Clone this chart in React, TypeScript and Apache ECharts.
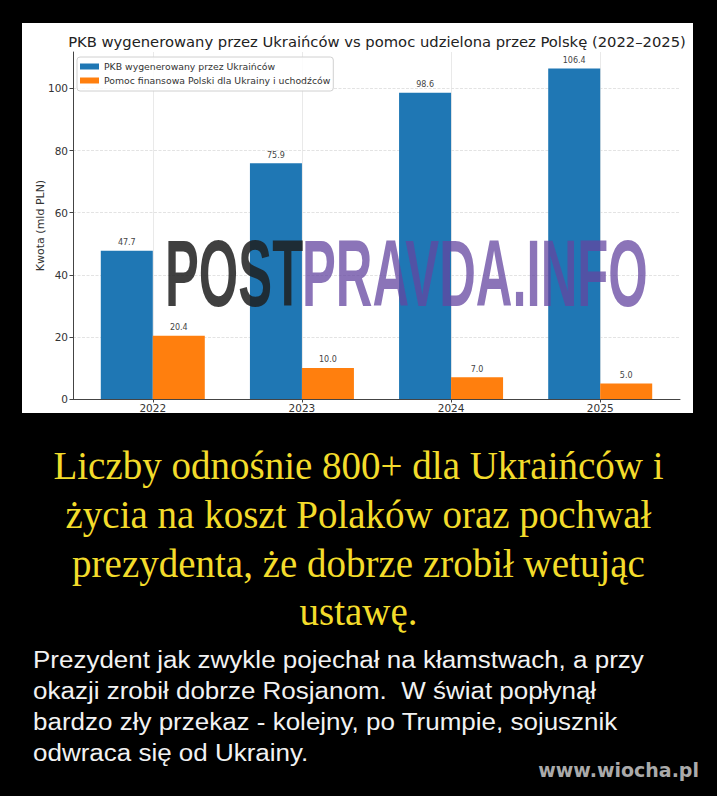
import React, { useEffect, useRef } from 'react';
import * as echarts from 'echarts';

const years = ['2022', '2023', '2024', '2025'];
const ukrGdp = [47.7, 75.9, 98.6, 106.4];
const polishAid = [20.4, 10.0, 7.0, 5.0];
const yTicks = [0, 20, 40, 60, 80, 100];
const xTicks = [0, 1, 2, 3];
const chartTitle = 'PKB wygenerowany przez Ukraińców vs pomoc udzielona przez Polskę (2022–2025)';
const seriesNames = ['PKB wygenerowany przez Ukraińców', 'Pomoc finansowa Polski dla Ukrainy i uchodźców'];
const yAxisName = 'Kwota (mld PLN)';
const headline = [
  'Liczby odnośnie 800+ dla Ukraińców i',
  'życia na koszt Polaków oraz pochwał',
  'prezydenta, że dobrze zrobił wetując',
  'ustawę.',
];
const body = [
  'Prezydent jak zwykle pojechał na kłamstwach, a przy',
  'okazji zrobił dobrze Rosjanom.  W świat popłynął',
  'bardzo zły przekaz - kolejny, po Trumpie, sojusznik',
  'odwraca się od Ukrainy.',
];
const site = 'www.wiocha.pl';
const wmA = 'POST';
const wmB = 'PRAVDA.INFO';

const SANS = 'DejaVu Sans';

export default function App() {
  const ref = useRef<HTMLDivElement>(null);
  useEffect(() => {
    if (!ref.current) return;
    const chart = echarts.init(ref.current, undefined, { renderer: 'svg' });
    const headY = [465, 514, 563, 611];
    const bodyY = [660, 691, 722, 753];
    chart.setOption({
      animation: false,
      backgroundColor: '#000',
      grid: { left: 73, top: 52, width: 607, height: 347, containLabel: false },
      legend: {
        orient: 'vertical',
        left: 77,
        top: 57,
        itemWidth: 19,
        itemHeight: 6,
        itemGap: 5,
        icon: 'rect',
        padding: [5, 3, 6, 3],
        backgroundColor: 'rgba(255,255,255,0.85)',
        borderColor: '#d0d0d0',
        borderWidth: 1,
        borderRadius: 3,
        textStyle: { fontSize: 9.3, color: '#333', fontFamily: SANS },
        data: seriesNames,
      },
      xAxis: {
        type: 'value',
        min: -0.535,
        max: 3.535,
        axisLine: { show: true, onZero: false, lineStyle: { color: '#444', width: 1 } },
        axisTick: { show: true, customValues: xTicks, length: 3.5, lineStyle: { color: '#444' } },
        axisLabel: {
          customValues: xTicks,
          formatter: (v: number) => years[Math.round(v)],
          fontSize: 10.5,
          color: '#333',
          fontFamily: SANS,
          margin: 3,
        },
        splitLine: { show: true, lineStyle: { color: '#e3e3e3', width: 0.8 } },
      },
      yAxis: {
        type: 'value',
        min: 0,
        max: 111.72,
        name: yAxisName,
        nameLocation: 'middle',
        nameGap: 27,
        nameMoveOverlap: false,
        nameTextStyle: { fontSize: 11, color: '#333', fontFamily: SANS },
        axisLine: { show: true, onZero: false, lineStyle: { color: '#444', width: 1 } },
        axisTick: { show: true, customValues: yTicks, length: 3.5, lineStyle: { color: '#444' } },
        axisLabel: { customValues: yTicks, fontSize: 10.5, color: '#333', fontFamily: SANS, margin: 5 },
        splitLine: { show: true, lineStyle: { color: '#dcdcdc', width: 0.8, type: [3, 1.5] } },
      },
      series: [
        {
          type: 'bar',
          name: seriesNames[0],
          data: ukrGdp.map((v, i) => [i, v]),
          barWidth: 52,
          barGap: '0%',
          itemStyle: { color: '#1f77b4' },
          label: {
            show: true,
            position: 'top',
            distance: 4,
            fontSize: 8,
            color: '#444',
            fontFamily: SANS,
            formatter: (p: any) => p.value[1].toFixed(1),
          },
        },
        {
          type: 'bar',
          name: seriesNames[1],
          data: polishAid.map((v, i) => [i, v]),
          barWidth: 52,
          barGap: '0%',
          itemStyle: { color: '#ff7f0e' },
          label: {
            show: true,
            position: 'top',
            distance: 4,
            fontSize: 8,
            color: '#444',
            fontFamily: SANS,
            formatter: (p: any) => p.value[1].toFixed(1),
          },
        },
      ],
      graphic: [
        { type: 'rect', z: -10, shape: { x: 22, y: 23, width: 671, height: 390 }, style: { fill: '#fff' } },
        {
          type: 'text', x: 377, y: 41,
          style: { text: chartTitle, fill: '#222', fontSize: 14.75, fontFamily: SANS, align: 'center', verticalAlign: 'middle' },
        },
        {
          type: 'text', x: 165, y: 273.5, scaleX: 0.54, z: 100,
          style: { text: wmA, fill: 'rgba(30,30,30,0.85)', fontSize: 94, fontWeight: 'bold', fontFamily: 'Liberation Sans', verticalAlign: 'middle' },
        },
        {
          type: 'text', x: 302, y: 273.5, scaleX: 0.54, z: 100,
          style: { text: wmB, fill: 'rgba(100,70,160,0.75)', fontSize: 94, fontWeight: 'bold', fontFamily: 'Liberation Sans', verticalAlign: 'middle' },
        },
        ...headline.map((t, i) => ({
          type: 'text', x: 358.5, y: headY[i],
          style: { text: t, fill: '#f3dc2b', fontSize: 39, fontFamily: 'Liberation Serif', align: 'center', verticalAlign: 'middle' },
        })),
        ...body.map((t, i) => ({
          type: 'text', x: 33, y: bodyY[i], scaleX: 1.13,
          style: { text: t, fill: '#f2f2f2', fontSize: 23, fontFamily: 'Liberation Sans', align: 'left', verticalAlign: 'middle' },
        })),
        {
          type: 'text', x: 699, y: 770,
          style: { text: site, fill: '#aaaaaa', fontSize: 19, fontWeight: 'bold', fontFamily: SANS, align: 'right', verticalAlign: 'middle' },
        },
      ],
    });
    return () => chart.dispose();
  }, []);
  return <div ref={ref} style={{ position: 'fixed', left: 0, top: 0, width: 717, height: 796 }} />;
}
